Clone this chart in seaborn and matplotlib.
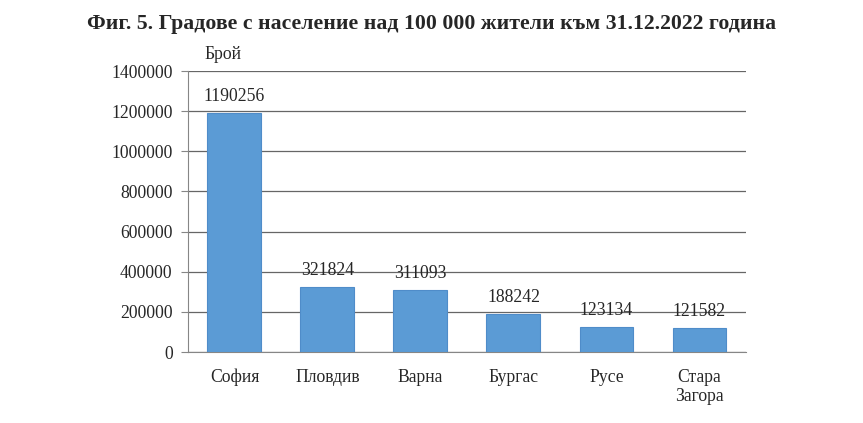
import matplotlib
matplotlib.use('Agg')
import matplotlib.pyplot as plt
import seaborn as sns
import pandas as pd
import numpy as np

# Данни
gradove = ['София', 'Пловдив', 'Варна', 'Бургас', 'Русе', 'Стара\nЗагора']
naselenie = [1190256, 321824, 311093, 188242, 123134, 121582]
y_ticks = [0, 200000, 400000, 600000, 800000, 1000000, 1200000, 1400000]

df = pd.DataFrame({'grad': gradove, 'naselenie': naselenie})

sns.set_style('white')
plt.rcParams['font.family'] = ['Liberation Serif', 'DejaVu Serif']

fs = 12.7
fig = plt.figure(figsize=(8.63, 4.23), dpi=100)
ax = fig.add_axes([0.2178, 0.1678, 0.6466, 0.6643])

sns.barplot(data=df, x='grad', y='naselenie', color='#5B9BD5', width=0.58,
            edgecolor='#4F8CC9', linewidth=0.8, saturation=1, ax=ax, zorder=3)

ax.set_ylim(0, 1400000)
ax.set_xlim(-0.5, len(gradove) - 0.5)
ax.set_yticks(y_ticks)
ax.set_yticklabels([str(v) for v in y_ticks], fontsize=fs)
ax.yaxis.grid(True, color='#666666', linewidth=0.9, zorder=0)
ax.set_axisbelow(True)

ax.set_xticks(range(len(gradove)))
ax.set_xticklabels(gradove, fontsize=fs, linespacing=1.2)
ax.set_xticks(np.arange(-0.5, len(gradove)), minor=True)
ax.tick_params(axis='x', which='major', length=0, pad=12)
ax.tick_params(axis='x', which='minor', length=5, color='#868686', direction='out')
ax.tick_params(axis='y', length=5, color='#868686', direction='out', left=True, pad=6)

for side in ['top', 'right']:
    ax.spines[side].set_visible(False)
ax.spines['left'].set_color('#868686')
ax.spines['bottom'].set_color('#868686')

for i, v in enumerate(naselenie):
    ax.text(i, v + 40000, str(v), ha='center', va='bottom', fontsize=fs)

ax.set_xlabel('')
ax.set_ylabel('')
fig.text(0.237, 0.85, 'Брой', fontsize=fs, ha='left', va='bottom')
fig.suptitle('Фиг. 5. Градове с население над 100 000 жители към 31.12.2022 година',
             fontsize=15.7, fontweight='bold', y=0.968)

fig.savefig('out.png', dpi=100)
